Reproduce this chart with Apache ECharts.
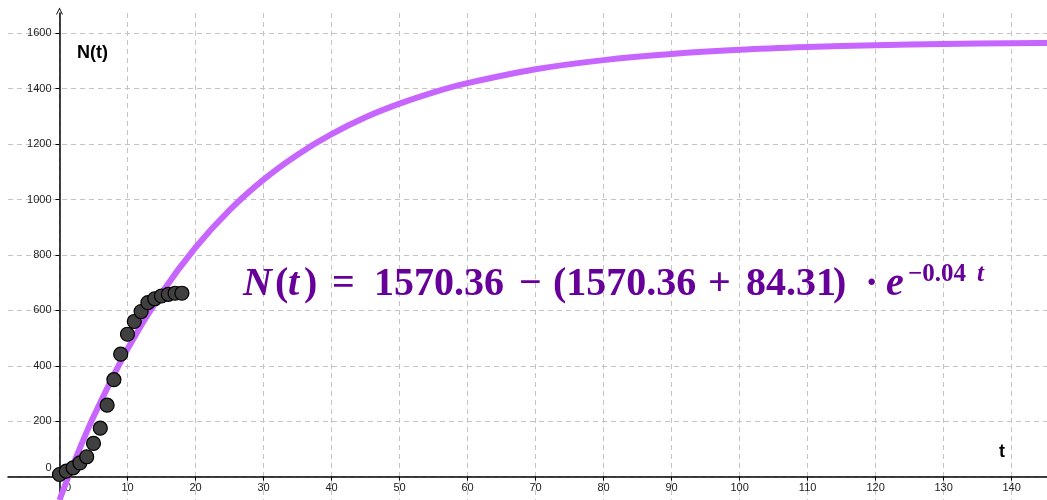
<!DOCTYPE html>
<html>
<head>
<meta charset="utf-8">
<script src="https://cdn.jsdelivr.net/npm/echarts@6/dist/echarts.min.js"></script>
<style>
html, body { margin: 0; padding: 0; background: #fff; }
#main { width: 1047px; height: 500px; }
</style>
</head>
<body>
<div id="main"></div>
<script>
// observed points (t, N)
const obsT = [0, 1, 2, 3, 4, 5, 6, 7, 8, 9, 10, 11, 12, 13, 14, 15, 16, 17, 18];
const obsN = [8, 20, 32, 50, 72, 120, 175, 258, 350, 442, 514, 560, 596, 628, 642, 652, 658, 662, 662];

// fitted curve
const curveT = [0, 2, 5, 10, 15, 20, 25, 30, 35, 40, 45, 50, 55, 60, 70, 80, 90, 100, 110, 120, 130, 140, 150];
const curveN = [-84, 43, 216, 461, 662, 827, 962, 1072, 1162, 1236, 1297, 1346, 1387, 1420, 1470, 1503, 1525, 1540, 1550, 1557, 1561, 1564, 1566];

const myChart = echarts.init(document.getElementById('main'));

const labelFont = { fontFamily: 'Liberation Sans', fontSize: 11, color: '#222' };
const gridLine = { show: true, showMinLine: false, showMaxLine: false, lineStyle: { color: '#c4c4c4', width: 1, type: [5, 4] } };
const mathColor = '#660099';

function mathText(x, y, text, font) {
    return {
        type: 'text', x: x, y: y, z: 100,
        style: { text: text, font: font, fill: mathColor, verticalAlign: 'middle' }
    };
}
const bold = 'bold 40px "Liberation Serif"';
const boldIt = 'italic bold 40px "Liberation Serif"';

const option = {
    backgroundColor: '#fff',
    animation: false,
    // axes are pushed in with offset instead of onZero, otherwise v6 drops the labels
    grid: { left: 8, right: 0, top: 13, bottom: 0, outerBoundsMode: 'none' },
    xAxis: {
        type: 'value',
        min: -7.57, max: 145.2,
        minInterval: 10, maxInterval: 10,
        position: 'bottom', offset: -23.3,
        axisLine: { onZero: false, lineStyle: { color: '#000', width: 1.5 } },
        axisTick: { show: true, length: 4, lineStyle: { color: '#000' } },
        axisLabel: {
            ...labelFont, margin: 6, showMinLabel: false, showMaxLabel: false,
            formatter: v => v === 0 ? '{z|0}' : String(v),
            rich: { z: { ...labelFont, padding: [0, 0, 0, 17] } }
        },
        splitLine: gridLine
    },
    yAxis: {
        type: 'value',
        min: -84, max: 1673,
        minInterval: 200, maxInterval: 200,
        position: 'left', offset: -51.5,
        axisLine: {
            onZero: false,
            lineStyle: { color: '#000', width: 1.5 },
            symbol: ['none', 'path://M0,10 L5,0 L10,10 L8.6,10 L5,2.6 L1.4,10 Z'],
            symbolSize: [9, 7], symbolOffset: [0, 2]
        },
        axisTick: { show: true, length: 4, lineStyle: { color: '#000' } },
        axisLabel: {
            ...labelFont, margin: 8, showMinLabel: false, showMaxLabel: false,
            formatter: v => v === 0 ? '{z|0}' : String(v),
            rich: { z: { ...labelFont, padding: [0, 0, 18, 0] } }
        },
        splitLine: gridLine
    },
    graphic: [
        { type: 'text', x: 77, y: 53, style: { text: 'N(t)', font: 'bold 18px "Liberation Sans"', fill: '#000', verticalAlign: 'middle' } },
        { type: 'text', x: 999, y: 452, style: { text: 't', font: 'bold 18px "Liberation Sans"', fill: '#000', verticalAlign: 'middle' } },
        mathText(243, 285, 'N', boldIt),
        mathText(275, 285, '(', bold),
        mathText(288, 285, 't', boldIt),
        mathText(304, 285, ')', bold),
        mathText(332, 285, '=', bold),
        mathText(374, 285, '1570.36', bold),
        mathText(519, 285, '\u2212', bold),
        mathText(553, 285, '(1570.36', bold),
        mathText(708, 285, '+', bold),
        mathText(746, 285, '84.31', bold),
        mathText(833, 285, ')', bold),
        mathText(865, 285, '\u00b7', bold),
        mathText(886, 285, 'e', boldIt),
        mathText(908, 275, '\u22120.04', 'bold 25px "Liberation Serif"'),
        mathText(977, 275, 't', 'italic bold 25px "Liberation Serif"')
    ],
    series: [
        {
            type: 'line',
            data: curveT.map((t, i) => [t, curveN[i]]),
            showSymbol: false,
            smooth: 0.35,
            lineStyle: { color: '#c766ff', width: 6 },
            z: 2
        },
        {
            type: 'scatter',
            data: obsT.map((t, i) => [t, obsN[i]]),
            symbolSize: 14,
            itemStyle: { color: '#404040', borderColor: '#000', borderWidth: 1.2, opacity: 1 },
            z: 3
        }
    ]
};

myChart.setOption(option);
</script>
</body>
</html>
